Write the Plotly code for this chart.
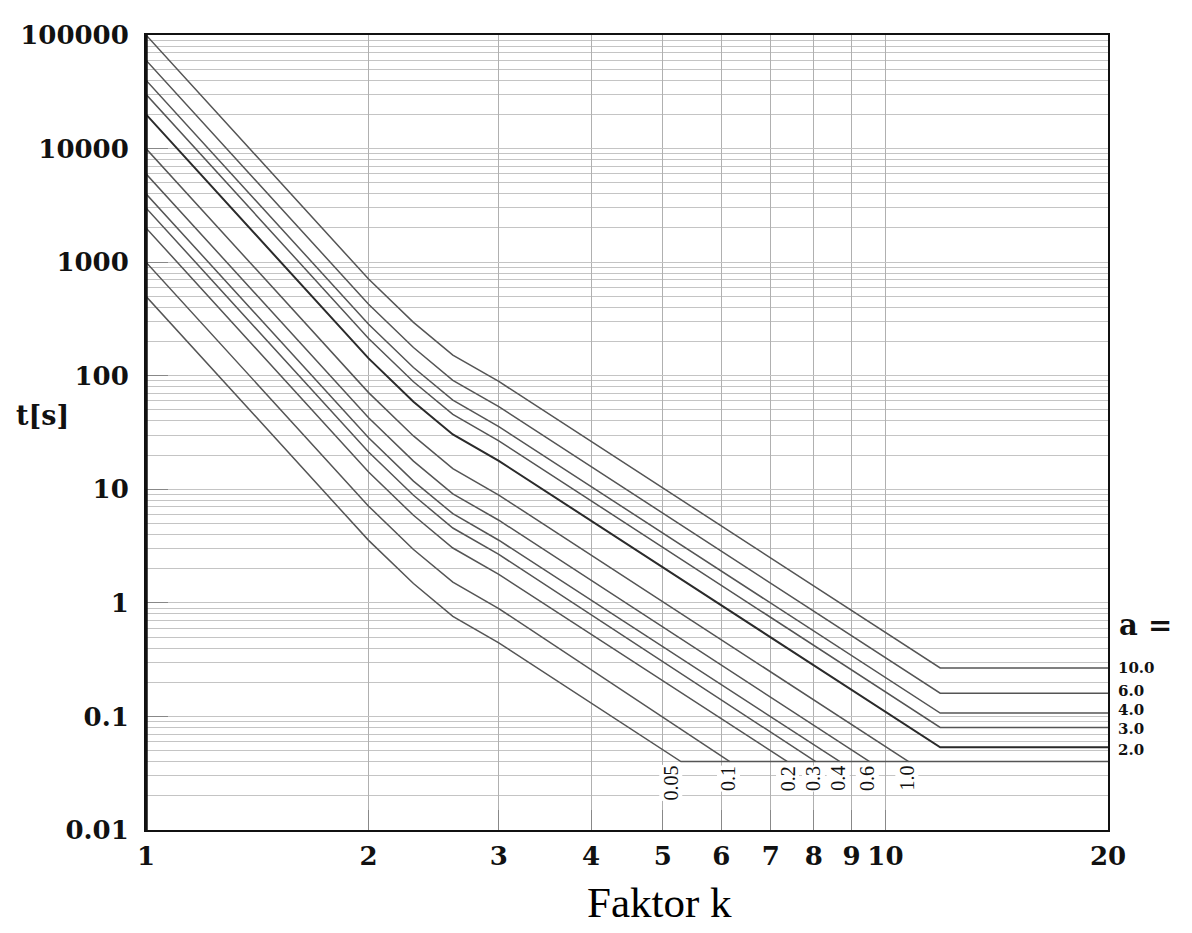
import math
import plotly.graph_objects as go

# ---------------- data ----------------
# common breakpoints of the tripping curves (Faktor k)
k_common = [1, 2, 2.3, 2.6, 3]
k_flat = 11.86          # start of the flat (minimum-time) part for a >= 2
k_max = 20

# upper family (flattening on the right), t[s]
a_upper = ["10.0", "6.0", "4.0", "3.0", "2.0"]
t_a10 = [100000, 710, 295, 152, 89, 0.267]
t_a6 = [60000, 426, 177, 91, 53.4, 0.160]
t_a4 = [40000, 284, 118, 61, 35.6, 0.107]
t_a3 = [30000, 213, 88.5, 45.6, 26.7, 0.080]
t_a2 = [20000, 142, 59, 30.4, 17.8, 0.0534]

# lower family (ending on the t = 0.04 s line), t[s]
a_lower = ["1.0", "0.6", "0.4", "0.3", "0.2", "0.1", "0.05"]
t_a1 = [10000, 71, 29.5, 15.2, 8.9]
t_a06 = [6000, 42.6, 17.7, 9.1, 5.34]
t_a04 = [4000, 28.4, 11.8, 6.1, 3.56]
t_a03 = [3000, 21.3, 8.85, 4.56, 2.67]
t_a02 = [2000, 14.2, 5.9, 3.04, 1.78]
t_a01 = [1000, 7.1, 2.95, 1.52, 0.89]
t_a005 = [500, 3.55, 1.48, 0.76, 0.445]
k_end_lower = [10.75, 9.52, 8.68, 8.05, 7.37, 6.16, 5.29]
t_min = 0.04

# axis ticks
x_ticks = [1, 2, 3, 4, 5, 6, 7, 8, 9, 10, 20]
x_ticktext = ["1", "2", "3", "4", "5", "6", "7", "8", "9", "10", "20"]
y_ticks = [0.01, 0.1, 1, 10, 100, 1000, 10000, 100000]
y_ticktext = ["0.01", "0.1", "1", "10", "100", "1000", "10000", "100000"]
y_minor = [m * 10 ** e for e in range(-2, 5) for m in range(2, 10)]

# label positions for the lower family (k at label centre)
label_k_lower = [10.7, 9.46, 8.64, 8.0, 7.38, 6.14, 5.13]
# small vertical nudges (px) of the right-hand labels
label_shift_upper = [0, 2, 3, -2, -3]

# ---------------- figure ----------------
SERIF = "Liberation Serif"
TICKF = "DejaVu Serif"
LINE = "#555555"
GRID = "#c4c4c4"

fig = go.Figure()

upper_t = [t_a10, t_a6, t_a4, t_a3, t_a2]
for name, ts in zip(a_upper, upper_t):
    ks = k_common + [k_flat, k_max]
    ys = ts + [ts[-1]]
    dark = name == "2.0"
    fig.add_trace(go.Scatter(
        x=ks, y=ys, mode="lines", name="a=" + name,
        line=dict(color="#2a2a2a" if dark else LINE, width=2 if dark else 1.5),
        showlegend=False, hoverinfo="skip"))

lower_t = [t_a1, t_a06, t_a04, t_a03, t_a02, t_a01, t_a005]
for name, ts, kend in zip(a_lower, lower_t, k_end_lower):
    ks = k_common + [kend]
    ys = ts + [t_min]
    if name == "0.05":
        ks = ks + [k_max]
        ys = ys + [t_min]
    fig.add_trace(go.Scatter(
        x=ks, y=ys, mode="lines", name="a=" + name,
        line=dict(color=LINE, width=1.5),
        showlegend=False, hoverinfo="skip"))

ann = []
# right-hand labels
for name, ts, sh in zip(a_upper, upper_t, label_shift_upper):
    ann.append(dict(x=1.009, xref="paper", y=math.log10(ts[-1]), yref="y",
                    text=name, showarrow=False, xanchor="left", yanchor="middle",
                    yshift=sh, borderpad=0,
                    font=dict(family=TICKF, size=15, color="#111", weight="bold")))
ann.append(dict(x=1.009, xref="paper", y=math.log10(0.64), yref="y",
                text="a =", showarrow=False, xanchor="left", yanchor="middle",
                font=dict(family=TICKF, size=29, color="#111", weight="bold")))
# bottom rotated labels
for name, kl in zip(a_lower, label_k_lower):
    ann.append(dict(x=math.log10(kl), xref="x", y=math.log10(0.0375), yref="y",
                    text=name, showarrow=False, textangle=-90,
                    xanchor="center", yanchor="top",
                    bgcolor="white", borderpad=0,
                    font=dict(family=SERIF, size=20, color="#111")))
# axis titles
ann.append(dict(x=-0.137, xref="paper", y=math.log10(45), yref="y",
                text="t[s]", showarrow=False, xanchor="left", yanchor="middle",
                font=dict(family=TICKF, size=27, color="#111", weight="bold")))
ann.append(dict(x=0.534, xref="paper", y=-0.091, yref="paper",
                text="Faktor k", showarrow=False, xanchor="center", yanchor="middle",
                font=dict(family=SERIF, size=43, color="#000")))

fig.update_layout(
    width=1176, height=917,
    margin=dict(l=136, r=76, t=18, b=95),
    paper_bgcolor="white", plot_bgcolor="white",
    annotations=ann,
    showlegend=False,
)

fig.update_xaxes(
    type="log", range=[0, math.log10(20)],
    tickvals=x_ticks, ticktext=x_ticktext,
    showgrid=True, gridcolor="#b0b0b0", gridwidth=1.3,
    ticks="inside", ticklen=20, tickcolor="#888", tickwidth=1,
    tickfont=dict(family=TICKF, size=26, color="#111", weight="bold"),
    ticklabelstandoff=2,
    showline=True, linecolor="#111", linewidth=2, mirror=True,
    zeroline=False,
)
fig.update_yaxes(
    type="log", range=[-2, 5],
    tickvals=y_ticks, ticktext=y_ticktext,
    showgrid=True, gridcolor=GRID, gridwidth=1.3,
    minor=dict(tickvals=y_minor, showgrid=True, gridcolor=GRID, gridwidth=1.3, ticks=""),
    ticks="inside", ticklen=22, tickcolor="#888", tickwidth=1,
    tickfont=dict(family=TICKF, size=26, color="#111", weight="bold"),
    ticklabelstandoff=10,
    showline=True, linecolor="#111", linewidth=2, mirror=True,
    zeroline=False,
)

# heavier left border as in the original
fig.add_shape(type="line", xref="paper", yref="paper", x0=0, x1=0, y0=0, y1=1,
              line=dict(color="#111", width=3.5))

fig.write_html("out.html")
